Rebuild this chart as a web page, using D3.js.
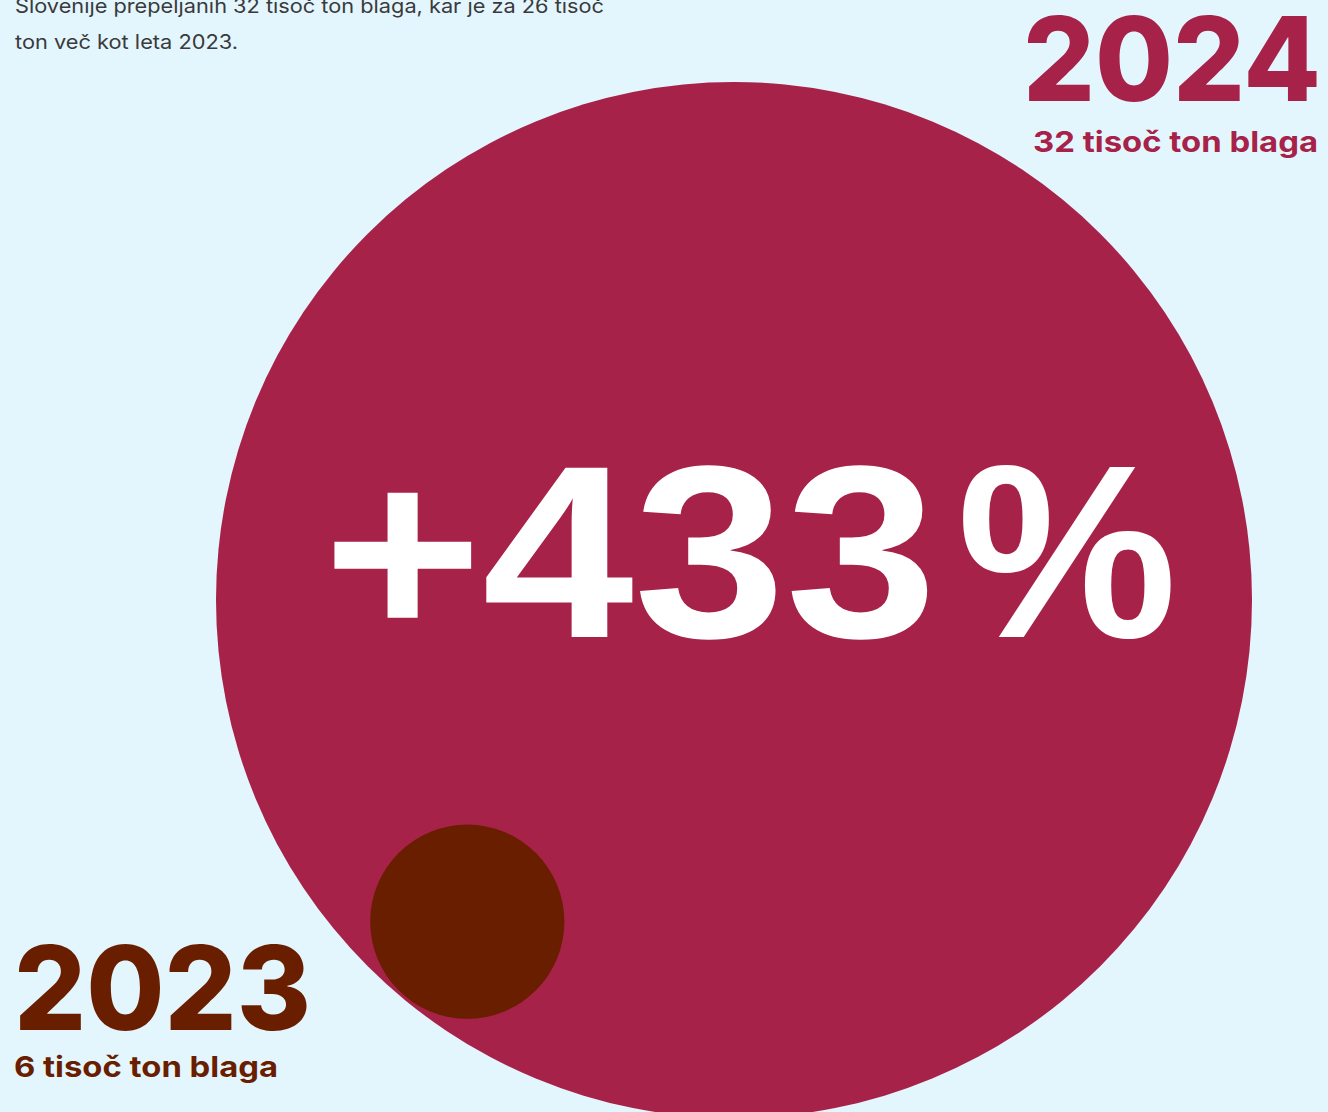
<!DOCTYPE html>
<html>
<head>
<meta charset="utf-8">
<script src="https://cdn.jsdelivr.net/npm/d3@7"></script>
<style>
  html, body { margin: 0; padding: 0; background: #e4f6fd; }
  svg { display: block; }
</style>
</head>
<body>
<script>
// ---- data ----
const years = ["2023", "2024"];
const values = [6, 32];              // tisoč ton blaga
const valueLabels = ["6 tisoč ton blaga", "32 tisoč ton blaga"];
const changeNumber = "+433";
const changeUnit = "%";
const introLines = [
  "Slovenije prepeljanih 32 tisoč ton blaga, kar je za 26 tisoč",
  "ton več kot leta 2023."
];

// ---- layout ----
const W = 1328, H = 1112;
const colors = { "2023": "#691e00", "2024": "#a72248" };
const bg = "#e4f6fd";

const svg = d3.select("body").append("svg").attr("width", W).attr("height", H);
svg.append("rect").attr("width", W).attr("height", H).attr("fill", bg);

// radius proportional to value
const r = d3.scaleLinear().domain([0, d3.max(values)]).range([0, 518]);

const bigCx = 734, bigCy = 600;
const Rbig = r(values[1]);
const rSmall = r(values[0]);
const angle = Math.atan2(322, -267);
const dist = Rbig - rSmall - 3;

const circles = [
  { year: years[1], value: values[1], cx: bigCx, cy: bigCy },
  { year: years[0], value: values[0], cx: bigCx + dist * Math.cos(angle), cy: bigCy + dist * Math.sin(angle) }
];

svg.selectAll("circle.bubble")
  .data(circles)
  .join("circle")
  .attr("class", "bubble")
  .attr("cx", d => d.cx)
  .attr("cy", d => d.cy)
  .attr("r", d => r(d.value))
  .attr("fill", d => colors[d.year]);

// change label
const changeParts = [
  { text: changeNumber, x: 323, w: 614 },
  { text: changeUnit, x: 957, w: 220 }
];
svg.selectAll("text.change")
  .data(changeParts)
  .join("text")
  .attr("class", "change")
  .attr("x", d => d.x).attr("y", 637)
  .attr("font-family", "Liberation Sans, Arial, sans-serif")
  .attr("font-weight", 700)
  .attr("font-size", 246)
  .attr("fill", "#ffffff")
  .attr("textLength", d => d.w)
  .attr("lengthAdjust", "spacingAndGlyphs")
  .text(d => d.text);

// intro text
svg.selectAll("text.intro")
  .data(introLines)
  .join("text")
  .attr("class", "intro")
  .attr("x", 15)
  .attr("y", (d, i) => 13 + i * 36)
  .attr("font-family", "Inter, Liberation Sans, sans-serif")
  .attr("font-size", 20)
  .attr("fill", "#3a3a3c")
  .attr("textLength", (d, i) => [589, 223][i])
  .attr("lengthAdjust", "spacingAndGlyphs")
  .text(d => d);

// year labels
const yearLabels = [
  { year: years[1], label: valueLabels[1], anchor: "end", x: 1321, xL: 1318, yY: 101, yL: 152, wY: 298, wL: 285 },
  { year: years[0], label: valueLabels[0], anchor: "start", x: 14, xL: 14, yY: 1030, yL: 1077, wY: 297, wL: 264 }
];

const g = svg.selectAll("g.ylab").data(yearLabels).join("g").attr("class", "ylab");
g.append("text")
  .attr("x", d => d.anchor === "end" ? d.x - d.wY : d.x)
  .attr("y", d => d.yY)
  .attr("font-family", "Inter, Liberation Sans, sans-serif")
  .attr("font-weight", 800)
  .attr("font-size", 117)
  .attr("fill", d => colors[d.year])
  .attr("textLength", d => d.wY)
  .attr("lengthAdjust", "spacingAndGlyphs")
  .text(d => d.year);
g.append("text")
  .attr("x", d => d.anchor === "end" ? d.xL - d.wL : d.xL)
  .attr("y", d => d.yL)
  .attr("font-family", "Inter, Liberation Sans, sans-serif")
  .attr("font-weight", 700)
  .attr("font-size", 29)
  .attr("fill", d => colors[d.year])
  .attr("textLength", d => d.wL)
  .attr("lengthAdjust", "spacingAndGlyphs")
  .text(d => d.label);
</script>
</body>
</html>
